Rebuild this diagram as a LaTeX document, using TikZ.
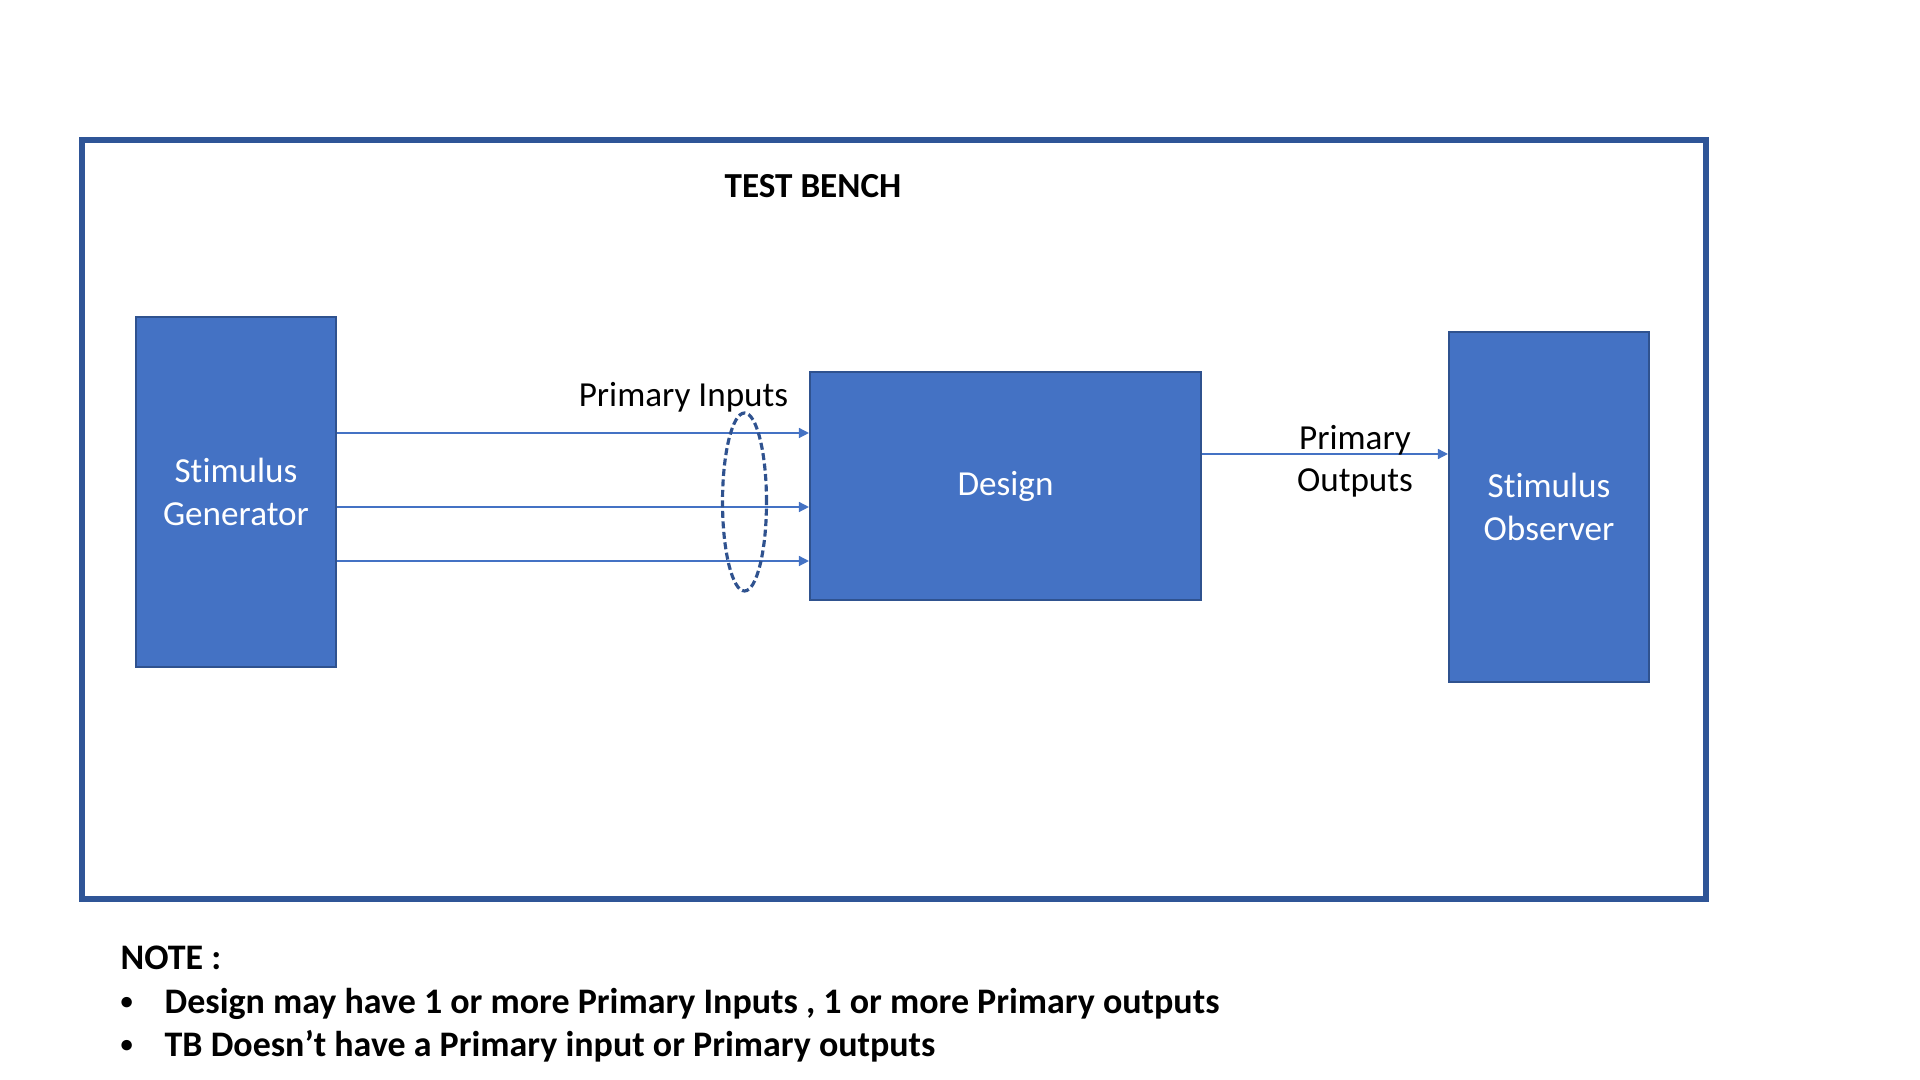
\documentclass[tikz,border=0pt]{standalone}
\usepackage{fontspec}
\setmainfont[Ligatures=NoCommon]{Carlito}
\usetikzlibrary{shapes.geometric,arrows.meta}
\definecolor{boxblue}{HTML}{4472C4}
\definecolor{edgeblue}{HTML}{2F528F}
\definecolor{tbblue}{HTML}{2F5597}
\newcommand{\dotitem}{\makebox[0.44cm][l]{\raisebox{0.12em}{\fontsize{7}{7}\selectfont•}}}
\tikzset{
  blk/.style={draw=edgeblue,line width=0.6pt,fill=boxblue,text=white,align=center,font=\fontsize{10}{12.2}\selectfont,inner sep=0pt},
  pin/.style={draw=boxblue,line width=0.4pt,-{Triangle[length=0.1cm,width=0.1cm]}},
  lbl/.style={font=\fontsize{10}{11.9}\selectfont,align=center,inner sep=0pt},
  note/.style={font=\fontsize{10.23}{12}\selectfont\bfseries,inner sep=0pt,anchor=base west}
}
\begin{document}
\begin{tikzpicture}
  \useasboundingbox (0,0) rectangle (19.2,10.8);
  \draw[tbblue,line width=1.6pt] (0.82,1.81) rectangle (17.06,9.40);
  \node[font=\fontsize{10}{12}\selectfont\bfseries,inner sep=0pt] (tb) at (8.13,8.94) {TEST BENCH};
  \node[blk,minimum width=2cm,minimum height=3.5cm] (gen) at (2.36,5.88) {Stimulus\\Generator};
  \node[blk,minimum width=3.91cm,minimum height=2.28cm] (des) at (10.055,5.94) {Design};
  \node[blk,minimum width=2cm,minimum height=3.5cm] (obs) at (15.49,5.73) {Stimulus\\Observer};
  \foreach \y in {6.47,5.73,5.19} \draw[pin] (gen.east |- 0,\y) -- (des.west |- 0,\y);
  \draw[pin] (des.east |- 0,6.26) -- (obs.west |- 0,6.26);
  \node[ellipse,draw=edgeblue,line width=0.9pt,dash pattern=on 0.07cm off 0.035cm,minimum width=0.44cm,minimum height=1.78cm,inner sep=0pt] (bus) at (7.445,5.78) {};
  \node[lbl,anchor=base] (pi) at (6.835,6.73) {Primary Inputs};
  \node[lbl] (po) at (13.55,6.19) {Primary\\Outputs};
  \node[note] (nt) at (1.20,1.10) {NOTE :};
  \node[note] (n1) at (1.20,0.66) {\dotitem Design may have 1 or more Primary Inputs , 1 or more Primary outputs};
  \node[note] (n2) at (1.20,0.23) {\dotitem TB Doesn’t have a Primary input or Primary outputs};
\end{tikzpicture}
\end{document}
